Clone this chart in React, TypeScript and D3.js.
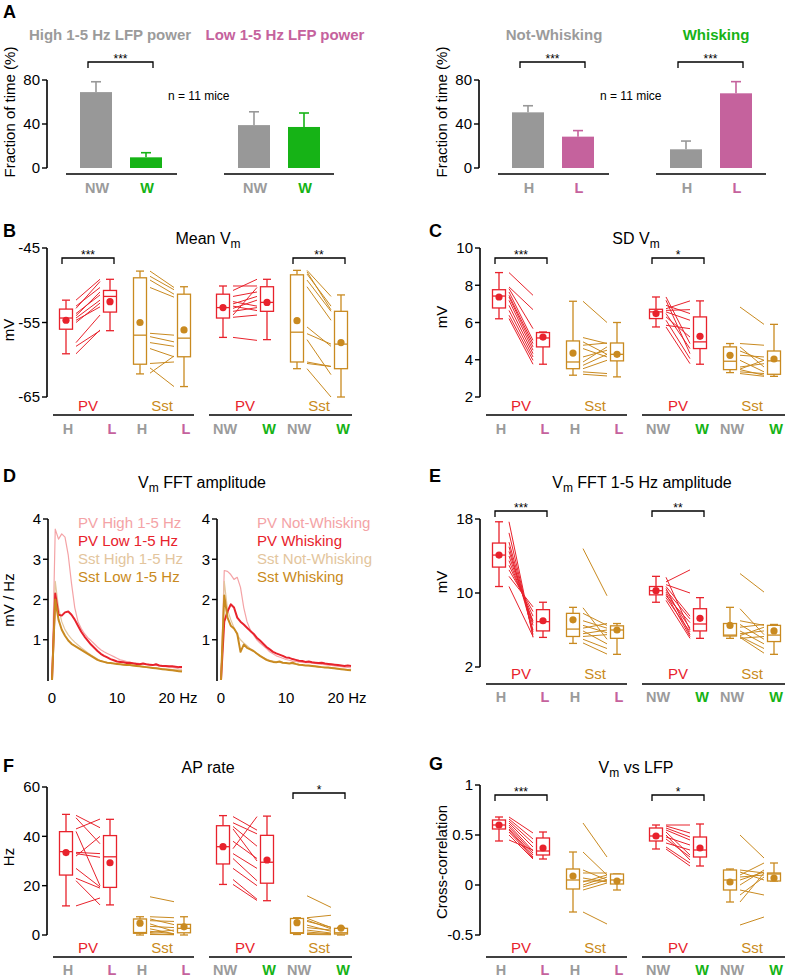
import React from "react";
import * as d3 from "d3";

const FONT = "'Liberation Sans', Arial, Helvetica, sans-serif";
const RED = "#e8222c";
const GOLD = "#c98a20";
const LBL_GRAY = "#9b9b9b";
const PINK = "#c5629d";
const GREEN = "#16b316";
const BAR_GRAY = "#989898";
const PV_LIGHT = "#f4a3a6";
const SST_LIGHT = "#e3c59d";

// ---------- A: fraction of time ----------
const aLeftTitles = ["High 1-5 Hz LFP power", "Low 1-5 Hz LFP power"];
const aLeftCats = ["NW", "W", "NW", "W"];
const aLeftMean = [69, 9.7, 39, 37.3];
const aLeftErr = [9.4, 4.2, 12.1, 12.7];
const aRightTitles = ["Not-Whisking", "Whisking"];
const aRightCats = ["H", "L", "H", "L"];
const aRightMean = [50.6, 28.5, 17, 67.9];
const aRightErr = [6, 5.5, 7.5, 10.6];
const aTicks = [0, 40, 80];

// ---------- box panels: [min, q1, median, q3, max, mean] ----------
const boxCats = ["H", "L", "H", "L", "NW", "W", "NW", "W"];
const groupNames = ["PV", "Sst", "PV", "Sst"];

const bStats = [
  [-59.2, -55.9, -54.4, -53.2, -52.0, -54.7],
  [-56.1, -53.6, -51.5, -50.7, -49.2, -52.2],
  [-61.9, -60.6, -56.7, -49.0, -48.1, -55.0],
  [-63.6, -59.6, -57.1, -51.2, -50.2, -56.0],
  [-57.0, -54.4, -53.0, -51.2, -50.1, -53.0],
  [-57.3, -53.5, -52.3, -50.2, -49.2, -52.3],
  [-61.2, -60.3, -56.3, -48.6, -48.0, -54.75],
  [-65.0, -61.2, -57.9, -53.5, -51.3, -57.7],
];
const bPvHL = [[-52.0, -49.2], [-52.8, -50.3], [-53.1, -49.5], [-53.8, -51.3], [-54.1, -50.9], [-54.4, -52.0], [-54.7, -52.9], [-55.0, -52.4], [-57.7, -54.0], [-58.2, -56.1], [-59.2, -56.0]];
const bSstHL = [[-48.1, -50.3], [-48.8, -50.6], [-49.3, -51.2], [-50.3, -51.6], [-56.45, -56.7], [-56.9, -57.6], [-57.7, -58.2], [-58.5, -59.6], [-60.5, -60.3], [-61.1, -63.6], [-61.8, -59.5]];
const bPvNW = [[-50.1, -50.1], [-50.7, -49.2], [-51.5, -50.9], [-52.2, -52.8], [-52.5, -51.5], [-52.8, -53.4], [-53.1, -52.0], [-53.5, -53.0], [-54.0, -50.3], [-54.3, -54.0], [-57.0, -57.4]];
const bSstNW = [[-48.0, -51.5], [-48.2, -53.3], [-48.5, -52.8], [-49.3, -53.5], [-50.2, -54.7], [-55.6, -58.2], [-57.3, -62.0], [-60.3, -60.9], [-60.5, -60.9], [-61.2, -65.0], [-56.5, -57.9]];
const bTicks = [-65, -55, -45];

const cStats = [
  [6.2, 6.78, 7.42, 7.76, 8.68, 7.37],
  [3.76, 4.69, 5.17, 5.46, 5.49, 5.22],
  [3.17, 3.52, 3.88, 5.01, 7.14, 4.36],
  [3.08, 3.94, 4.29, 4.9, 6.0, 4.29],
  [5.76, 6.21, 6.57, 6.71, 7.37, 6.48],
  [3.76, 4.6, 4.96, 6.3, 7.16, 5.26],
  [3.31, 3.47, 3.92, 4.69, 4.87, 4.24],
  [3.11, 3.22, 3.94, 4.47, 5.9, 4.04],
];
const cPvHL = [[8.68, 7.46], [7.91, 6.69], [7.82, 5.67], [7.64, 5.04], [7.46, 4.87], [7.37, 4.69], [7.19, 4.51], [6.92, 4.33], [6.65, 4.15], [6.39, 3.97], [6.21, 3.76]];
const cSstHL = [[7.14, 6.0], [5.19, 4.87], [4.96, 4.29], [4.78, 4.9], [4.6, 4.15], [4.15, 4.51], [3.88, 4.69], [3.7, 4.29], [3.52, 3.97], [3.35, 3.26], [3.22, 3.13]];
const cPvNW = [[7.37, 4.87], [7.19, 4.33], [6.92, 6.48], [6.74, 7.16], [6.65, 6.69], [6.57, 6.12], [6.48, 4.6], [6.3, 5.22], [6.12, 4.06], [5.85, 5.67], [5.76, 3.79]];
const cSstNW = [[6.83, 5.9], [4.87, 4.78], [4.69, 3.61], [4.47, 3.97], [4.24, 4.15], [3.97, 3.35], [3.61, 3.79], [3.47, 3.17], [3.35, 3.26], [3.26, 3.11], [3.5, 3.97]];
const cTicks = [2, 4, 6, 8, 10];

const eStats = [
  [10.7, 12.8, 14.1, 15.4, 17.7, 14.1],
  [5.2, 5.9, 6.9, 8.2, 9.0, 7.0],
  [4.55, 5.3, 6.1, 7.8, 8.45, 7.1],
  [3.37, 5.1, 6.0, 6.45, 6.7, 6.0],
  [9.0, 9.8, 10.25, 10.7, 11.8, 10.25],
  [5.1, 5.9, 6.65, 8.3, 9.5, 7.26],
  [5.1, 5.35, 5.45, 6.7, 8.45, 6.5],
  [3.37, 4.75, 5.45, 6.5, 6.6, 5.9],
];
const ePvHL = [[17.7, 5.2], [16.5, 5.5], [15.5, 6.0], [15.0, 5.8], [14.5, 6.5], [14.0, 6.8], [13.5, 7.0], [13.0, 7.5], [12.5, 8.0], [11.8, 8.5], [10.7, 5.3]];
const eSstHL = [[14.8, 9.7], [8.4, 5.0], [7.8, 6.5], [7.0, 6.2], [6.5, 5.7], [6.2, 6.7], [5.9, 4.5], [5.6, 6.0], [5.3, 5.5], [5.0, 4.0], [4.6, 3.4]];
const ePvNW = [[11.7, 6.0], [11.2, 12.5], [10.9, 10.0], [10.7, 7.5], [10.5, 5.5], [10.3, 7.2], [10.1, 6.2], [9.9, 5.3], [9.7, 6.8], [9.5, 5.8], [9.2, 5.1]];
const eSstNW = [[12.1, 10.1], [8.3, 5.5], [7.0, 6.5], [6.6, 5.0], [6.3, 6.6], [5.9, 4.5], [5.6, 5.9], [5.4, 6.3], [5.3, 4.0], [5.2, 3.5], [5.1, 5.3]];
const eTicks = [2, 10, 18];

const fStats = [
  [11.8, 24.3, 33.8, 41.9, 48.9, 33.4],
  [12.2, 19.3, 31.7, 40.3, 46.9, 29.3],
  [0, 0.7, 1.0, 6.5, 7.4, 4.8],
  [0, 0.9, 2.7, 4.3, 7.4, 3.3],
  [20.5, 28.8, 35.8, 44.3, 48.4, 35.8],
  [13.9, 21.0, 29.5, 40.4, 48.2, 30.4],
  [0.2, 0.7, 0.9, 6.7, 7.0, 5.0],
  [0, 0.4, 0.9, 2.7, 3.0, 2.8],
];
const fPvHL = [[48.5, 43.5], [47.5, 37], [43, 47], [42, 20], [33.5, 33], [33, 31.5], [32, 40], [27, 19.5], [23, 19], [22, 12.2], [11.8, 15]];
const fSstHL = [[15.5, 13.5], [7.4, 7.0], [6.5, 4.2], [5.8, 5.5], [4.5, 1.5], [3.5, 3.0], [2.5, 0.5], [1.5, 0.5], [1, 2.0], [0.5, 0.2], [0.2, 0.1]];
const fPvNW = [[48, 42.5], [45.5, 41], [44, 36], [43, 30], [38, 31], [35, 48], [33, 27], [31, 22], [27, 20], [22.5, 14.5], [20.5, 14]];
const fSstNW = [[15.9, 11.2], [7, 8], [6.8, 3], [6, 2.5], [5.5, 3.2], [4, 1.5], [3, 2], [2, 0.8], [1.2, 0.5], [0.6, 0.3], [0.2, 0.1]];
const fTicks = [0, 20, 40, 60];

const gStats = [
  [0.44, 0.56, 0.6, 0.65, 0.68, 0.6],
  [0.26, 0.3, 0.34, 0.47, 0.53, 0.37],
  [-0.27, -0.04, 0.05, 0.16, 0.33, 0.09],
  [-0.05, 0.01, 0.05, 0.11, 0.11, 0.04],
  [0.36, 0.44, 0.49, 0.57, 0.6, 0.49],
  [0.19, 0.28, 0.35, 0.48, 0.61, 0.37],
  [-0.17, -0.05, 0.05, 0.15, 0.16, 0.03],
  [0.04, 0.04, 0.11, 0.12, 0.22, 0.07],
];
const gPvHL = [[0.68, 0.52], [0.66, 0.46], [0.64, 0.42], [0.62, 0.38], [0.6, 0.34], [0.58, 0.32], [0.56, 0.3], [0.55, 0.28], [0.53, 0.27], [0.5, 0.26], [0.45, 0.35]];
const gSstHL = [[0.62, 0.28], [0.33, 0.1], [0.15, 0.05], [0.12, 0.12], [0.07, 0.03], [0.04, 0.04], [0.03, 0.1], [-0.05, 0.02], [0.0, 0.08], [-0.02, 0.05], [-0.27, -0.39]];
const gPvNW = [[0.6, 0.6], [0.59, 0.52], [0.57, 0.48], [0.55, 0.45], [0.53, 0.3], [0.5, 0.25], [0.48, 0.4], [0.46, 0.28], [0.42, 0.35], [0.38, 0.22], [0.36, 0.19]];
const gSstNW = [[0.5, 0.27], [0.15, 0.12], [0.13, 0.05], [0.1, 0.22], [0.08, 0.1], [0.05, 0.13], [0.0, 0.15], [-0.05, -0.1], [-0.1, 0.08], [-0.17, 0.12], [-0.4, -0.32]];
const gTicks = [-0.5, 0, 0.5, 1];

// ---------- D: FFT amplitude spectra ----------
const fftFreq = [0, 0.5, 1, 1.5, 2, 2.5, 3, 3.5, 4, 4.5, 5, 5.5, 6, 6.5, 7, 7.5, 8, 8.5, 9, 9.5, 10, 10.5, 11, 11.5, 12, 12.5, 13, 13.5, 14, 14.5, 15, 15.5, 16, 16.5, 17, 17.5, 18, 18.5, 19, 19.5, 20];
const pvHigh = [0, 3.75, 3.5, 3.63, 3.55, 3.1, 2.4, 1.8, 1.45, 1.28, 1.15, 1.05, 0.98, 0.9, 0.82, 0.75, 0.7, 0.66, 0.62, 0.58, 0.54, 0.5, 0.48, 0.46, 0.44, 0.43, 0.42, 0.41, 0.4, 0.39, 0.38, 0.37, 0.36, 0.35, 0.34, 0.33, 0.32, 0.31, 0.3, 0.28, 0.27];
const pvLow = [0, 2.15, 1.62, 1.6, 1.68, 1.7, 1.62, 1.5, 1.35, 1.2, 1.08, 0.98, 0.88, 0.8, 0.72, 0.65, 0.6, 0.56, 0.52, 0.49, 0.46, 0.45, 0.44, 0.42, 0.43, 0.41, 0.4, 0.39, 0.41, 0.39, 0.38, 0.37, 0.39, 0.36, 0.35, 0.35, 0.34, 0.34, 0.33, 0.32, 0.32];
const sstHigh = [0, 2.45, 1.8, 1.45, 1.25, 1.12, 1.02, 0.94, 0.87, 0.8, 0.74, 0.68, 0.62, 0.57, 0.52, 0.48, 0.45, 0.43, 0.42, 0.41, 0.4, 0.39, 0.38, 0.37, 0.36, 0.35, 0.35, 0.34, 0.33, 0.32, 0.31, 0.3, 0.3, 0.29, 0.28, 0.27, 0.27, 0.26, 0.25, 0.25, 0.24];
const sstLow = [0, 2.0, 1.5, 1.25, 1.1, 0.98, 0.9, 0.85, 0.8, 0.75, 0.7, 0.65, 0.6, 0.55, 0.5, 0.47, 0.45, 0.43, 0.42, 0.41, 0.4, 0.39, 0.38, 0.37, 0.37, 0.36, 0.35, 0.34, 0.33, 0.32, 0.31, 0.3, 0.29, 0.28, 0.27, 0.26, 0.25, 0.24, 0.23, 0.22, 0.21];
const pvNW = [0, 2.72, 2.7, 2.62, 2.5, 2.55, 2.3, 1.8, 1.45, 1.25, 1.12, 1.0, 0.92, 0.85, 0.78, 0.7, 0.65, 0.6, 0.57, 0.54, 0.51, 0.49, 0.47, 0.46, 0.45, 0.44, 0.43, 0.43, 0.42, 0.41, 0.4, 0.39, 0.38, 0.37, 0.36, 0.35, 0.34, 0.33, 0.32, 0.31, 0.3];
const pvW = [0, 1.45, 1.7, 1.88, 1.8, 1.55, 1.45, 1.38, 1.3, 1.22, 1.15, 1.05, 0.98, 0.9, 0.82, 0.76, 0.7, 0.66, 0.63, 0.6, 0.56, 0.55, 0.52, 0.5, 0.48, 0.47, 0.45, 0.46, 0.44, 0.43, 0.42, 0.43, 0.41, 0.4, 0.39, 0.38, 0.37, 0.36, 0.35, 0.36, 0.35];
const sstNW = [0, 2.45, 1.75, 1.5, 1.3, 1.12, 1.0, 0.92, 0.85, 0.78, 0.72, 0.66, 0.6, 0.56, 0.52, 0.49, 0.47, 0.45, 0.44, 0.43, 0.42, 0.41, 0.4, 0.39, 0.38, 0.37, 0.36, 0.35, 0.34, 0.33, 0.32, 0.31, 0.31, 0.3, 0.29, 0.28, 0.27, 0.27, 0.26, 0.25, 0.25];
const sstW = [0, 2.1, 1.55, 1.35, 1.28, 1.15, 0.7, 0.88, 0.8, 0.76, 0.72, 0.66, 0.6, 0.55, 0.5, 0.47, 0.45, 0.44, 0.46, 0.43, 0.42, 0.41, 0.43, 0.4, 0.38, 0.37, 0.36, 0.36, 0.35, 0.34, 0.33, 0.32, 0.31, 0.31, 0.3, 0.29, 0.28, 0.27, 0.26, 0.25, 0.24];
const fftLeftLegend = ["PV High 1-5 Hz", "PV Low 1-5 Hz", "Sst High 1-5 Hz", "Sst Low 1-5 Hz"];
const fftRightLegend = ["PV Not-Whisking", "PV Whisking", "Sst Not-Whisking", "Sst Whisking"];
const fftTicks = [1, 2, 3, 4];
const fftXTicks = [0, 10, 20];

const catColor: Record<string, string> = { NW: LBL_GRAY, H: LBL_GRAY, W: GREEN, L: PINK };
const barColor: Record<string, string> = { NW: BAR_GRAY, H: BAR_GRAY, W: GREEN, L: PINK };
const boxColors = [RED, RED, GOLD, GOLD, RED, RED, GOLD, GOLD];

function Letter({ x, y, t }: any) {
  return (
    <text x={x} y={y} fontSize={18} fontWeight="bold">
      {t}
    </text>
  );
}

function VmTitle({ x, y, pre, post }: any) {
  return (
    <text x={x} y={y} fontSize={16} textAnchor="middle">
      {pre}V
      <tspan fontSize={12} dy={4}>m</tspan>
      <tspan dy={-4}>{post}</tspan>
    </text>
  );
}

function Bracket({ x1, x2, y, label }: any) {
  return (
    <g>
      <path d={`M${x1},${y + 6}V${y}H${x2}V${y + 6}`} fill="none" stroke="#000" strokeWidth={1.3} />
      <text x={(x1 + x2) / 2} y={y + 1} fontSize={12} textAnchor="middle">
        {label}
      </text>
    </g>
  );
}

function YAxis({ x, scale, ticks }: any) {
  const [d0, d1] = scale.domain();
  return (
    <g>
      <line x1={x} x2={x} y1={scale(d1)} y2={scale(d0)} stroke="#000" strokeWidth={1.6} />
      {ticks.map((t: number) => (
        <g key={t}>
          <line x1={x - 5} x2={x} y1={scale(t)} y2={scale(t)} stroke="#000" strokeWidth={1.4} />
          <text x={x - 7} y={scale(t)} dy="0.36em" fontSize={15} textAnchor="end">
            {String(t)}
          </text>
        </g>
      ))}
    </g>
  );
}

function BarPanel({ ax, titles, titleX, titleColors, cats, means, errs, brackets }: any) {
  const y = d3.scaleLinear().domain([0, 80]).range([168, 80]);
  const x = d3.scaleOrdinal<number, number>().domain([0, 1, 2, 3]).range([ax + 49, ax + 99, ax + 207, ax + 257]);
  const bw = 32;
  return (
    <g>
      {titles.map((t: string, i: number) => (
        <text key={t} x={titleX[i]} y={40} fontSize={15} fontWeight="bold" textAnchor="middle" fill={titleColors[i]}>
          {t}
        </text>
      ))}
      <YAxis x={ax} scale={y} ticks={aTicks} />
      <text transform={`translate(${ax - 32},112) rotate(-90)`} fontSize={15} textAnchor="middle">
        Fraction of time (%)
      </text>
      {means.map((m: number, i: number) => {
        const c = barColor[cats[i]];
        const cx = x(i);
        return (
          <g key={i}>
            <rect x={cx - bw / 2} y={y(m)} width={bw} height={y(0) - y(m)} fill={c} />
            <line x1={cx} x2={cx} y1={y(m)} y2={y(m + errs[i])} stroke={c} strokeWidth={1.6} />
            <line x1={cx - 5} x2={cx + 5} y1={y(m + errs[i])} y2={y(m + errs[i])} stroke={c} strokeWidth={1.6} />
            <text x={cx + 1} y={193} fontSize={14.5} fontWeight="bold" textAnchor="middle" fill={catColor[cats[i]]}>
              {cats[i]}
            </text>
          </g>
        );
      })}
      <line x1={ax + 19} x2={ax + 130} y1={174} y2={174} stroke="#000" strokeWidth={1.6} />
      <line x1={ax + 177} x2={ax + 287} y1={174} y2={174} stroke="#000" strokeWidth={1.6} />
      {brackets.map((g: number) => (
        <Bracket key={g} x1={x(g * 2) - 8} x2={x(g * 2 + 1) + 7} y={62} label="***" />
      ))}
      <text x={ax + 121} y={100} fontSize={12}>
        n = 11 mice
      </text>
    </g>
  );
}

function BoxPanel(props: any) {
  const { ax, yTop, yBot, domain, ticks, stats, pairs, brackets, bracketY, groupY, lineY, catY, yLabel, yLabelY } = props;
  const y = d3.scaleLinear().domain(domain).range([yBot, yTop]);
  const cx = d3
    .scaleOrdinal<number, number>()
    .domain(d3.range(8))
    .range([19, 63, 93, 137, 176, 220, 250, 294].map((o) => ax + o));
  const hw = 6.5;
  return (
    <g>
      <YAxis x={ax} scale={y} ticks={ticks} />
      <text transform={`translate(${ax - 33},${yLabelY}) rotate(-90)`} fontSize={15} textAnchor="middle">
        {yLabel}
      </text>
      {pairs.map((set: number[][], k: number) => {
        const x1 = cx(2 * k) + 10;
        const x2 = cx(2 * k + 1) - 10;
        return set.map((p, j) => (
          <line key={`${k}-${j}`} x1={x1} x2={x2} y1={y(p[0])} y2={y(p[1])} stroke={boxColors[2 * k]} strokeWidth={1} />
        ));
      })}
      {stats.map((s: number[], i: number) => {
        const c = boxColors[i];
        const x0 = cx(i);
        return (
          <g key={i} stroke={c} strokeWidth={1.3} fill="none">
            <line x1={x0} x2={x0} y1={y(s[4])} y2={y(s[3])} />
            <line x1={x0} x2={x0} y1={y(s[1])} y2={y(s[0])} />
            <line x1={x0 - 4} x2={x0 + 4} y1={y(s[4])} y2={y(s[4])} />
            <line x1={x0 - 4} x2={x0 + 4} y1={y(s[0])} y2={y(s[0])} />
            <rect x={x0 - hw} y={y(s[3])} width={hw * 2} height={Math.max(0.5, y(s[1]) - y(s[3]))} fill="#fff" />
            <line x1={x0 - hw} x2={x0 + hw} y1={y(s[2])} y2={y(s[2])} />
            <circle cx={x0} cy={y(s[5])} r={3.6} fill={c} stroke="none" />
          </g>
        );
      })}
      {groupNames.map((g, k) => (
        <text key={k} x={(cx(2 * k) + cx(2 * k + 1)) / 2} y={groupY} fontSize={15} textAnchor="middle" fill={boxColors[2 * k]}>
          {g}
        </text>
      ))}
      <line x1={ax + 6} x2={ax + 147} y1={lineY} y2={lineY} stroke="#000" strokeWidth={1.6} />
      <line x1={ax + 162} x2={ax + 305} y1={lineY} y2={lineY} stroke="#000" strokeWidth={1.6} />
      {boxCats.map((c, i) => (
        <text key={i} x={cx(i) + 2} y={catY} fontSize={14.5} fontWeight="bold" textAnchor="middle" fill={catColor[c]}>
          {c}
        </text>
      ))}
      {brackets.map((b: any, k: number) => (
        <Bracket key={k} x1={cx(b.i) - 4} x2={cx(b.i + 1) + 4} y={bracketY} label={b.label} />
      ))}
    </g>
  );
}

function FftPlot({ ax, series, colors, widths, legend, legendX }: any) {
  const x = d3.scaleLinear().domain([0, 20]).range([ax + 4, ax + 134]);
  const y = d3.scaleLinear().domain([0, 4]).range([680, 519]);
  const line = d3
    .line<number>()
    .x((_, i) => x(fftFreq[i]))
    .y((v) => y(v));
  const legendColors = [PV_LIGHT, RED, SST_LIGHT, GOLD];
  return (
    <g>
      <line x1={ax} x2={ax} y1={y(4)} y2={y(0) + 1} stroke="#000" strokeWidth={1.6} />
      {fftTicks.map((t) => (
        <g key={t}>
          <line x1={ax - 5} x2={ax} y1={y(t)} y2={y(t)} stroke="#000" strokeWidth={1.4} />
          <text x={ax - 7} y={y(t)} dy="0.36em" fontSize={15} textAnchor="end">
            {t}
          </text>
        </g>
      ))}
      {fftXTicks.map((t) => (
        <text key={t} x={x(t) - (t === 20 ? 4 : 0)} y={703} fontSize={15} textAnchor="middle">
          {t === 20 ? "20 Hz" : String(t)}
        </text>
      ))}
      {series.map((s: number[], i: number) => (
        <path key={i} d={line(s) || ""} fill="none" stroke={colors[i]} strokeWidth={widths[i]} strokeLinejoin="round" />
      ))}
      {legend.map((l: string, i: number) => (
        <text key={l} x={legendX} y={528 + i * 18} fontSize={15} fill={legendColors[i]}>
          {l}
        </text>
      ))}
    </g>
  );
}

export default function App() {
  return (
    <svg
      width={786}
      height={980}
      viewBox="0 0 786 980"
      style={{ position: "absolute", left: 0, top: 0, background: "#fff" }}
      fontFamily={FONT}
    >
      <rect width={786} height={980} fill="#fff" />
      {/* A */}
      <Letter x={3} y={18} t="A" />
      <BarPanel
        ax={47}
        titles={aLeftTitles}
        titleX={[110, 285]}
        titleColors={[LBL_GRAY, PINK]}
        cats={aLeftCats}
        means={aLeftMean}
        errs={aLeftErr}
        brackets={[0]}
      />
      <BarPanel
        ax={479}
        titles={aRightTitles}
        titleX={[554, 716]}
        titleColors={[LBL_GRAY, GREEN]}
        cats={aRightCats}
        means={aRightMean}
        errs={aRightErr}
        brackets={[0, 1]}
      />

      {/* B */}
      <Letter x={3} y={237} t="B" />
      <VmTitle x={208} y={244} pre="Mean " post="" />
      <BoxPanel
        ax={47} yTop={248} yBot={397} domain={[-65, -45]} ticks={bTicks}
        stats={bStats} pairs={[bPvHL, bSstHL, bPvNW, bSstNW]}
        brackets={[{ i: 0, label: "***" }, { i: 6, label: "**" }]}
        bracketY={258} groupY={411} lineY={415} catY={434} yLabel="mV" yLabelY={330}
      />

      {/* C */}
      <Letter x={429} y={237} t="C" />
      <VmTitle x={636} y={244} pre="SD " post="" />
      <BoxPanel
        ax={480} yTop={248} yBot={397} domain={[2, 10]} ticks={cTicks}
        stats={cStats} pairs={[cPvHL, cSstHL, cPvNW, cSstNW]}
        brackets={[{ i: 0, label: "***" }, { i: 4, label: "*" }]}
        bracketY={258} groupY={411} lineY={415} catY={434} yLabel="mV" yLabelY={317}
      />

      {/* D */}
      <Letter x={3} y={482} t="D" />
      <VmTitle x={202} y={488} pre="" post=" FFT amplitude" />
      <text transform="translate(14,600) rotate(-90)" fontSize={15} textAnchor="middle">
        mV / Hz
      </text>
      <FftPlot
        ax={48}
        series={[pvHigh, sstHigh, pvLow, sstLow]}
        colors={[PV_LIGHT, SST_LIGHT, RED, GOLD]}
        widths={[1.2, 1.2, 2, 2]}
        legend={fftLeftLegend}
        legendX={78}
      />
      <FftPlot
        ax={217}
        series={[pvNW, sstNW, pvW, sstW]}
        colors={[PV_LIGHT, SST_LIGHT, RED, GOLD]}
        widths={[1.2, 1.2, 2, 2]}
        legend={fftRightLegend}
        legendX={257}
      />

      {/* E */}
      <Letter x={429} y={482} t="E" />
      <VmTitle x={642} y={488} pre="" post=" FFT 1-5 Hz amplitude" />
      <BoxPanel
        ax={480} yTop={519} yBot={667} domain={[2, 18]} ticks={eTicks}
        stats={eStats} pairs={[ePvHL, eSstHL, ePvNW, eSstNW]}
        brackets={[{ i: 0, label: "***" }, { i: 4, label: "**" }]}
        bracketY={511} groupY={679} lineY={684} catY={702} yLabel="mV" yLabelY={582}
      />

      {/* F */}
      <Letter x={3} y={772} t="F" />
      <text x={208} y={773} fontSize={16} textAnchor="middle">
        AP rate
      </text>
      <BoxPanel
        ax={47} yTop={787} yBot={935} domain={[0, 60]} ticks={fTicks}
        stats={fStats} pairs={[fPvHL, fSstHL, fPvNW, fSstNW]}
        brackets={[{ i: 6, label: "*" }]}
        bracketY={793} groupY={953} lineY={957} catY={975} yLabel="Hz" yLabelY={857}
      />

      {/* G */}
      <Letter x={429} y={770} t="G" />
      <VmTitle x={636} y={773} pre="" post=" vs LFP" />
      <BoxPanel
        ax={480} yTop={785} yBot={935} domain={[-0.5, 1]} ticks={gTicks}
        stats={gStats} pairs={[gPvHL, gSstHL, gPvNW, gSstNW]}
        brackets={[{ i: 0, label: "***" }, { i: 4, label: "*" }]}
        bracketY={795} groupY={953} lineY={957} catY={975} yLabel="Cross-correlation" yLabelY={862}
      />
    </svg>
  );
}
